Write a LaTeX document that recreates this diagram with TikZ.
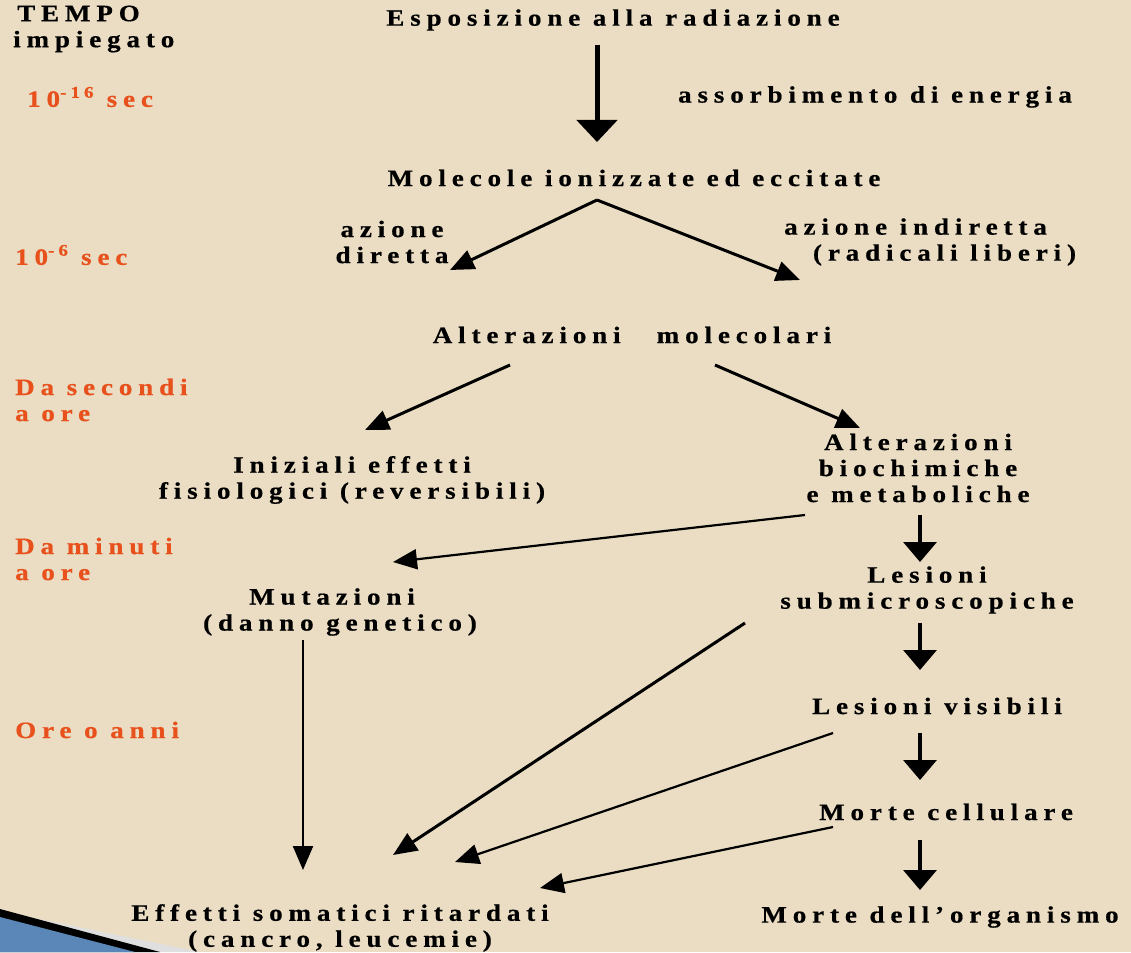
\documentclass[tikz,border=0pt]{standalone}
\usepackage{fontspec}
\setmainfont{Liberation Serif}[LetterSpace=25,FakeStretch=1.15,FakeBold=0.6]
\usetikzlibrary{arrows.meta}

\definecolor{sfondo}{HTML}{EADDC3}
\definecolor{arancio}{HTML}{E8501C}
\definecolor{angolo}{HTML}{5B86B8}

\begin{document}
\begin{tikzpicture}[x=1pt,y=-1pt,
  testo/.style={font=\fontsize{23.5}{26}\selectfont\bfseries, inner sep=0pt, align=center},
  tempo/.style={testo, text=arancio, anchor=west, align=left},
  grossa/.style={line width=5pt, -{Triangle[length=22pt,width=40pt]}},
  giu/.style={line width=3.5pt, -{Triangle[length=20pt,width=33pt]}},
  freccia/.style={line width=3pt, -{Triangle[length=24pt,width=20pt]}},
  sottile/.style={line width=2.2pt, -{Triangle[length=24pt,width=20pt]}}]
% sfondo e angolo
\fill[sfondo] (0,0) rectangle (1131,952);
\useasboundingbox (0,0) rectangle (1131,952);
\fill[gray!25] (0,911) -- (200,952) -- (0,952) -- cycle;
\fill[black] (0,909) -- (160,952) -- (0,952) -- cycle;
\fill[angolo] (0,917) -- (135,952) -- (0,952) -- cycle;

% colonna dei tempi
\node[testo, anchor=west, align=left] (tit) at (13,29) {\hspace*{4pt}TEMPO\\impiegato};
\node[tempo] (t1) at (27,97) {10\textsuperscript{-16} sec};
\node[tempo] (t2) at (15,255) {10\textsuperscript{-6} sec};
\node[tempo] (t3) at (15,400) {Da secondi\\a ore};
\node[tempo] (t4) at (15,559) {Da minuti\\a ore};
\node[tempo] (t5) at (15,730) {Ore o anni};

% catena degli eventi
\node[testo] (esp) at (613,20) {Esposizione alla radiazione};
\node[testo] (ass) at (875,97) {assorbimento di energia};
\node[testo] (mol) at (634,178) {Molecole ionizzate ed eccitate};
\node[testo] (dir) at (392,242) {azione\\diretta};
\node[testo] (indir) at (930,242) {azione indiretta\hspace*{29pt}\\\hspace*{29pt}(radicali liberi)};
\node[testo] (altmol) at (632,335) {Alterazioni\hspace{1em} molecolari};
\node[testo] (iniz) at (352,480) {Iniziali effetti\\fisiologici (reversibili)};
\node[testo] (biochim) at (918,468) {Alterazioni\\biochimiche\\e metaboliche};
\node[testo] (lessub) at (927,590) {Lesioni\\submicroscopiche};
\node[testo] (mut) at (340,612) {Mutazioni\hspace*{16pt}\\(danno genetico)};
\node[testo] (lesvis) at (937,706) {Lesioni visibili};
\node[testo] (morcel) at (946,812) {Morte cellulare};
\node[testo] (effetti) at (340,928) {Effetti somatici ritardati\\(cancro, leucemie)};
\node[testo] (mororg) at (940,917) {Morte dell’organismo};

\coordinate (split) at ([shift={(-37,22)}]mol.center);

\draw[grossa] ([shift={(-16,25)}]esp.center) -- ([shift={(-37,-36)}]mol.center);
\draw[freccia] (split) -- ([shift={(58,28)}]dir.center);
\draw[freccia] (split) -- ([shift={(-130,38)}]indir.center);
\draw[freccia] ([shift={(-122,30)}]altmol.center) -- ([shift={(13,-50)}]iniz.center);
\draw[freccia] ([shift={(83,30)}]altmol.center) -- ([shift={(-58,-40)}]biochim.center);
\draw[sottile] ([shift={(-113,47)}]biochim.center) -- ([shift={(53,-50)}]mut.center);
\draw[giu] ([shift={(2,47)}]biochim.center) -- ([shift={(-7,-28)}]lessub.center);
\draw[sottile] ([shift={(-37,28)}]mut.center) -- ([shift={(-37,-58)}]effetti.center);
\draw[freccia] ([shift={(-182,33)}]lessub.center) -- ([shift={(53,-73)}]effetti.center);
\draw[giu] ([shift={(-7,33)}]lessub.center) -- ([shift={(-17,-36)}]lesvis.center);
\draw[sottile] ([shift={(-104,27)}]lesvis.center) -- ([shift={(115,-66)}]effetti.center);
\draw[giu] ([shift={(-17,27)}]lesvis.center) -- ([shift={(-26,-32)}]morcel.center);
\draw[sottile] ([shift={(-113,15)}]morcel.center) -- ([shift={(200,-40)}]effetti.center);
\draw[giu] ([shift={(-26,28)}]morcel.center) -- ([shift={(-20,-27)}]mororg.center);
\end{tikzpicture}
\end{document}
